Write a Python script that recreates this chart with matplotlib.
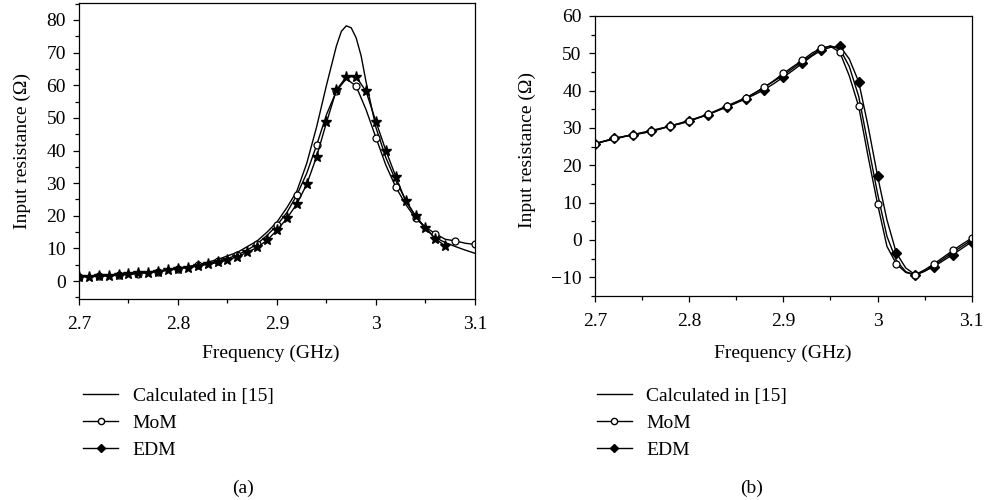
import numpy as np
import matplotlib
matplotlib.use('Agg')
import matplotlib.pyplot as plt
from matplotlib.lines import Line2D
from matplotlib.ticker import MultipleLocator

plt.rcParams['font.family'] = ['Liberation Serif', 'DejaVu Serif']
plt.rcParams['mathtext.fontset'] = 'stix'

# ---- panel (a) data ----
calc_freq_a = [2.70, 2.72, 2.74, 2.76, 2.78, 2.80, 2.82, 2.84, 2.86, 2.88, 2.89, 2.90,
               2.91, 2.92, 2.93, 2.94, 2.95, 2.96, 2.965, 2.97, 2.975, 2.98, 2.985,
               2.99, 3.00, 3.01, 3.02, 3.03, 3.04, 3.05, 3.06, 3.07, 3.08, 3.09, 3.10]
calc_res_a = [1.5, 1.7, 2.0, 2.5, 3.1, 3.9, 5.0, 6.6, 8.8, 12.3, 15.0, 18.1,
              22.5, 27.5, 36.0, 47.2, 60.0, 72.0, 76.5, 78.2, 77.6, 74.5, 69.0,
              61.0, 47.0, 37.8, 30.8, 24.8, 19.9, 16.0, 13.3, 11.8, 10.6, 9.5, 8.5]

mom_freq_a = np.round(np.arange(2.70, 3.1001, 0.01), 2)
mom_res_a = [1.3, 1.4, 1.5, 1.6, 1.8, 2.0, 2.3, 2.6, 2.9, 3.3,
             3.8, 4.3, 4.8, 5.4, 6.0, 6.9, 8.0, 9.5, 11.4, 14.0,
             17.1, 21.0, 26.3, 33.0, 41.6, 51.0, 58.2, 62.0, 59.7, 52.5,
             43.9, 35.5, 28.8, 23.5, 19.2, 16.5, 14.5, 12.8, 12.3, 11.6, 11.2]

edm_freq_a = np.round(np.arange(2.70, 3.0701, 0.01), 2)
edm_res_a = [1.3, 1.3, 1.5, 1.7, 1.8, 2.1, 2.4, 2.6, 2.9, 3.4,
             3.8, 4.1, 4.6, 5.1, 5.7, 6.4, 7.5, 8.8, 10.3, 12.5,
             15.6, 19.2, 23.6, 29.6, 38.1, 48.6, 58.5, 62.6, 62.6, 58.1,
             48.8, 40.0, 32.0, 24.5, 19.9, 16.3, 13.0, 10.7]

# ---- panel (b) data ----
freq_b = np.round(np.arange(2.70, 3.1001, 0.01), 2)
mom_res_b = [25.8, 26.5, 27.2, 27.7, 28.2, 28.6, 29.2, 29.8, 30.6, 31.2,
             31.9, 32.8, 33.7, 34.8, 35.9, 37.0, 38.1, 39.4, 40.9, 42.7,
             44.6, 46.4, 48.1, 50.0, 51.4, 51.9, 50.3, 44.0, 35.8, 22.4,
             9.7, -1.7, -6.4, -8.7, -9.3, -8.0, -6.4, -4.6, -2.8, -1.1, 0.5]
edm_res_b = [25.8, 26.5, 27.2, 27.7, 28.2, 28.6, 29.1, 29.8, 30.5, 31.1,
             31.8, 32.7, 33.6, 34.6, 35.6, 36.7, 37.8, 39.0, 40.3, 41.9,
             43.6, 45.4, 47.3, 49.2, 50.8, 51.6, 51.9, 48.5, 42.4, 30.5,
             17.2, 5.4, -3.5, -7.5, -9.3, -8.3, -7.1, -5.5, -3.9, -2.2, -0.5]
calc_freq_b = [2.70, 2.74, 2.78, 2.82, 2.86, 2.90, 2.92, 2.94, 2.95, 2.96, 2.97,
               2.98, 2.99, 3.00, 3.01, 3.02, 3.03, 3.04, 3.05, 3.06, 3.08, 3.10]
calc_res_b = [25.8, 28.2, 30.5, 33.6, 37.9, 44.1, 47.8, 51.2, 52.0, 51.2, 46.5,
              38.5, 25.5, 12.5, 1.0, -5.5, -8.5, -9.4, -8.4, -6.8, -3.3, 0.0]

legend_labels = ['Calculated in [15]', 'MoM', 'EDM']

fs = 14
fig = plt.figure(figsize=(9.85, 5.0), dpi=100)
ax_a = fig.add_axes([0.0802, 0.402, 0.402, 0.592])
ax_b = fig.add_axes([0.604, 0.408, 0.3825, 0.560])

lw = 1.0
# panel (a)
ax_a.plot(calc_freq_a, calc_res_a, color='black', lw=lw)
ax_a.plot(mom_freq_a, mom_res_a, color='black', lw=lw, marker='o', markevery=2,
          markersize=5, markerfacecolor='white', markeredgecolor='black', markeredgewidth=0.9)
ax_a.plot(edm_freq_a, edm_res_a, color='black', lw=lw, marker='*',
          markersize=8, markerfacecolor='black', markeredgecolor='black')

# panel (b)
ax_b.plot(calc_freq_b, calc_res_b, color='black', lw=lw)
ax_b.plot(freq_b, edm_res_b, color='black', lw=lw, marker='D', markevery=2,
          markersize=5, markerfacecolor='black', markeredgecolor='black')
ax_b.plot(freq_b, mom_res_b, color='black', lw=lw, marker='o', markevery=2,
          markersize=5, markerfacecolor='white', markeredgecolor='black', markeredgewidth=0.9)

ax_a.set_ylim(-5.5, 85.2)
ax_b.set_ylim(-15, 60)

for ax in (ax_a, ax_b):
    ax.set_xlim(2.7, 3.1)
    ax.xaxis.set_major_locator(MultipleLocator(0.1))
    ax.xaxis.set_minor_locator(MultipleLocator(0.05))
    ax.yaxis.set_major_locator(MultipleLocator(10))
    ax.yaxis.set_minor_locator(MultipleLocator(5))
    ax.xaxis.set_major_formatter(plt.FuncFormatter(lambda v, p: ('%.1f' % v).rstrip('0').rstrip('.')))
    ax.tick_params(which='both', direction='out', top=False, right=False,
                   labelsize=fs, width=0.9)
    ax.tick_params(which='major', length=4.5)
    ax.tick_params(which='minor', length=3)
    ax.tick_params(axis='x', which='major', pad=8)
    ax.tick_params(axis='y', which='major', pad=5)
    for s in ax.spines.values():
        s.set_linewidth(0.9)
    ax.set_xlabel('Frequency (GHz)', fontsize=fs, va='center')
    ax.set_ylabel('Input resistance (Ω)', fontsize=fs, va='center')

ax_b.yaxis.set_major_formatter(plt.FuncFormatter(lambda v, p: ('\u2212%d' % -v) if v < 0 else '%d' % v))

ax_a.xaxis.set_label_coords(0.485, -0.182)
ax_a.yaxis.set_label_coords(-0.144, 0.5)
ax_b.xaxis.set_label_coords(0.4993, -0.2036)
ax_b.yaxis.set_label_coords(-0.1806, 0.52)

handles = [
    Line2D([], [], color='black', lw=lw),
    Line2D([], [], color='black', lw=lw, marker='o', markersize=4.5,
           markerfacecolor='white', markeredgecolor='black'),
    Line2D([], [], color='black', lw=lw, marker='D', markersize=4.5,
           markerfacecolor='black', markeredgecolor='black'),
]
for x0 in (0.0843, 0.606):
    fig.legend(handles, legend_labels, loc='upper left', bbox_to_anchor=(x0, 0.226),
               frameon=False, fontsize=fs, handlelength=1.8, handletextpad=0.75,
               labelspacing=0.5, borderpad=0, borderaxespad=0)

fig.text(0.2467, 0.024, '(a)', ha='center', va='center', fontsize=fs)
fig.text(0.7635, 0.024, '(b)', ha='center', va='center', fontsize=fs)

fig.savefig('out.png', dpi=100)
